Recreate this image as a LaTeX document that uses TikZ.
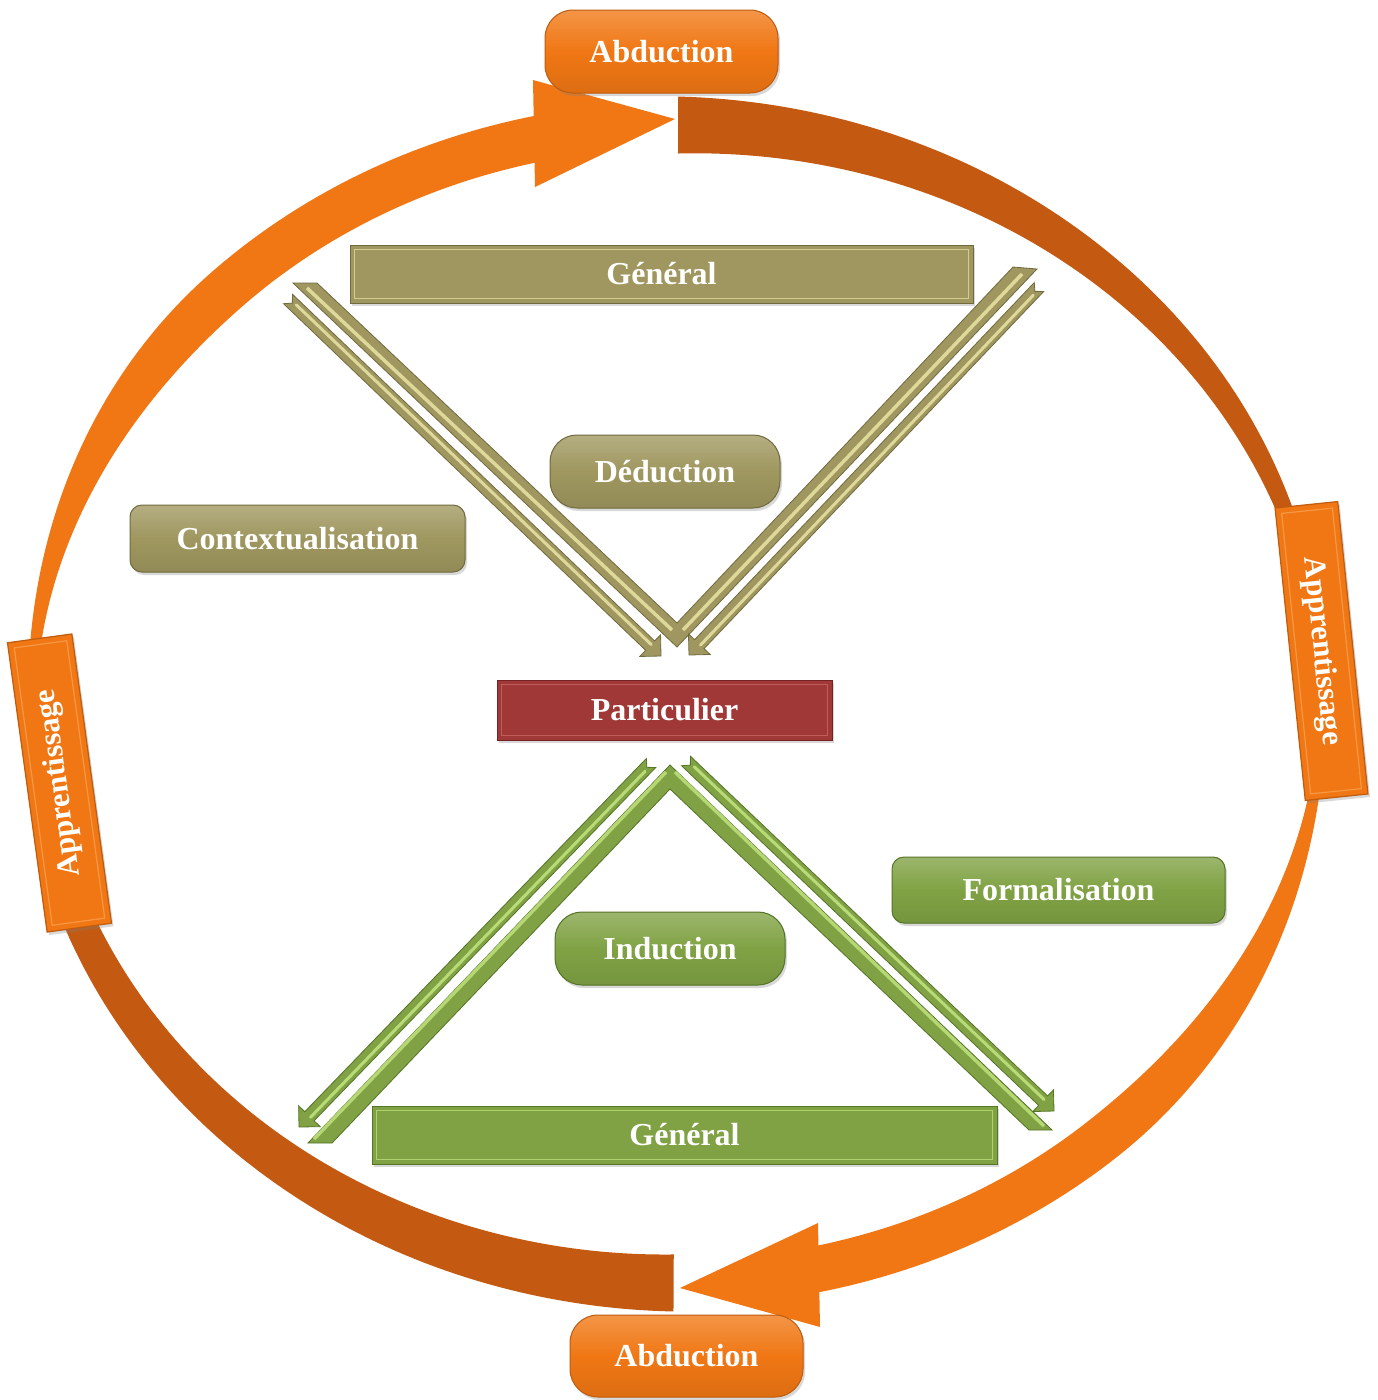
\documentclass[tikz,border=0pt]{standalone}
\usepackage{fontspec}
\setmainfont{Liberation Serif}
\usetikzlibrary{calc,shadows}

\definecolor{orL}{RGB}{240,119,20}
\definecolor{orLD}{RGB}{190,92,16}
\definecolor{orLL}{RGB}{248,160,80}
\definecolor{orD}{RGB}{196,90,18}
\definecolor{olv}{RGB}{159,151,95}
\definecolor{olvD}{RGB}{112,106,62}
\definecolor{olvL}{RGB}{234,228,165}
\definecolor{rd}{RGB}{160,56,56}
\definecolor{rdD}{RGB}{118,34,34}
\definecolor{rdL}{RGB}{205,110,110}
\definecolor{grn}{RGB}{128,162,68}
\definecolor{grnD}{RGB}{84,116,38}
\definecolor{grnL}{RGB}{196,230,128}

% slim arrow with notched tail: #1 tail, #2 tip, #3 colour family
\newcommand\slimarrow[3]{%
  \path ($(#2)!15pt!(#1)$) coordinate (#1b);
  \fill[#3, draw=#3D, line width=0.8pt]
    ($(#1)!6.5pt!90:(#2)$) -- ($(#1b)!6.5pt!90:(#2)$) -- ($(#1b)!15pt!90:(#2)$)
    -- (#2) -- ($(#1b)!15pt!-90:(#2)$) -- ($(#1b)!6.5pt!-90:(#2)$)
    -- ($(#1)!6.5pt!-90:(#2)$) -- ($(#1)!6pt!(#2)$) -- cycle;
  \draw[#3L, line width=3pt, opacity=.85, line cap=round]
    ($($(#1)!10pt!(#2)$)!1.5pt!90:(#2)$) -- ($(#1b)!1.5pt!90:(#2)$);
}

\begin{document}
\begin{tikzpicture}[x=1pt,y=-1pt,
  declare function={
    cl(\x)=min(1,max(0,\x));
    sm(\x)=3*\x*\x-2*\x*\x*\x;
    wA(\x)=max(12,57-45*(\x+89.9)/77.9);
    wB(\x)=8+38*sm(cl((\x-1.5)/47.4));
    wC(\x)=57-30*(\x-90.3)/79.7;
    wD(\x)=8+38*sm(cl((\x-178)/47.4));
  },
  lbl/.style={text=white, font=\bfseries\fontsize{32}{38}\selectfont},
  bar/.style={lbl, draw=#1D, fill=#1, line width=1pt, inner sep=0pt,
    drop shadow={opacity=.3, shadow xshift=2pt, shadow yshift=-3pt}},
  pill/.style={bar=#1, top color=#1!78!white, bottom color=#1!92!black, middle color=#1},
  tab/.style={lbl, font=\bfseries\fontsize{31}{36}\selectfont, fill=orL, draw=orLD,
    line width=1.2pt, inner sep=0pt,
    drop shadow={opacity=.3, shadow xshift=2pt, shadow yshift=-3pt}},
  tabin/.style={draw=orLL, line width=1.2pt, opacity=.8, inner sep=0pt},
  bevel/.style={draw=#1, line width=1.5pt, opacity=.7},
]
\fill[white] (0,0) rectangle (1378,1400);
\useasboundingbox (0,0) rectangle (1378,1400);

% ---- learning cycle: four tapering bands on one ellipse ----
\fill[orD]
  plot[domain=-89.9:-8, samples=80, variable=\x] ({677+(645+wA(\x)/2)*cos(\x)}, {704+(579+wA(\x)/2)*sin(\x)})
  -- plot[domain=-8:-89.9, samples=80, variable=\x] ({677+(645-wA(\x)/2)*cos(\x)}, {704+(579-wA(\x)/2)*sin(\x)})
  -- cycle;
\fill[orL]
  plot[domain=1.5:79, samples=80, variable=\x] ({677+(645+wB(\x)/2)*cos(\x)}, {704+(579+wB(\x)/2)*sin(\x)})
  -- plot[domain=79:1.5, samples=80, variable=\x] ({677+(645-wB(\x)/2)*cos(\x)}, {704+(579-wB(\x)/2)*sin(\x)})
  -- cycle;
\fill[orD]
  plot[domain=90.3:165, samples=80, variable=\x] ({677+(645+wC(\x)/2)*cos(\x)}, {704+(579+wC(\x)/2)*sin(\x)})
  -- plot[domain=165:90.3, samples=80, variable=\x] ({677+(645-wC(\x)/2)*cos(\x)}, {704+(579-wC(\x)/2)*sin(\x)})
  -- cycle;
\fill[orL]
  plot[domain=178:259, samples=80, variable=\x] ({677+(645+wD(\x)/2)*cos(\x)}, {704+(579+wD(\x)/2)*sin(\x)})
  -- plot[domain=259:178, samples=80, variable=\x] ({677+(645-wD(\x)/2)*cos(\x)}, {704+(579-wD(\x)/2)*sin(\x)})
  -- cycle;

% arrow heads of the cycle
\coordinate (topTip) at (675,119);
\coordinate (topB1) at (533,80);
\coordinate (topB2) at (535,187);
\fill[orL] (topB1) -- (topTip) -- (topB2) -- cycle;
\coordinate (botTip) at (680,1288);
\coordinate (botB1) at (818,1223);
\coordinate (botB2) at (820,1327);
\fill[orL] (botB1) -- (botTip) -- (botB2) -- cycle;

% ---- deduction: V with two slim arrows ----
\coordinate (vL1) at (293,283); \coordinate (vL2) at (317,283);
\coordinate (vIn) at (677,623);
\coordinate (vR1) at (1013,267); \coordinate (vR2) at (1037,269);
\coordinate (vOut) at (677,647);
\fill[olv, draw=olvD, line width=0.8pt] (vL1) -- (vL2) -- (vIn) -- (vR1) -- (vR2) -- (vOut) -- cycle;
\draw[olvL, line width=3.5pt, opacity=.85] (307,288) -- (672,630);
\draw[olvL, line width=3.5pt, opacity=.85] (1022,274) -- (683,630);

\coordinate (dLt) at (288,299); \coordinate (dLp) at (661,656);
\coordinate (dRt) at (1039,287); \coordinate (dRp) at (689,655);
\slimarrow{dLt}{dLp}{olv}
\slimarrow{dRt}{dRp}{olv}

% ---- induction: inverted V with two slim arrows ----
\coordinate (iOut) at (670,765); \coordinate (iIn) at (670,789);
\coordinate (iL1) at (308,1143); \coordinate (iL2) at (332,1143);
\coordinate (iR1) at (1029,1130); \coordinate (iR2) at (1052,1130);
\fill[grn, draw=grnD, line width=0.8pt] (iOut) -- (iR2) -- (iR1) -- (iIn) -- (iL2) -- (iL1) -- cycle;
\draw[grnL, line width=3.5pt, opacity=.8] (666,772) -- (314,1139);
\draw[grnL, line width=3.5pt, opacity=.8] (675,772) -- (1044,1126);

\coordinate (nLt) at (651,763); \coordinate (nLp) at (299,1127);
\coordinate (nRt) at (686,761); \coordinate (nRp) at (1054,1111);
\slimarrow{nLt}{nLp}{grn}
\slimarrow{nRt}{nRp}{grn}

% ---- boxes ----
\node[bar=olv, minimum width=623pt, minimum height=58pt] (genT) at (661.5,274) {Général};
\draw[bevel=olvL] ([xshift=5pt,yshift=-5pt]genT.north west) rectangle ([xshift=-5pt,yshift=5pt]genT.south east);

\node[pill=olv, rounded corners=27pt, minimum width=230pt, minimum height=73pt] (ded) at (665,471.5) {Déduction};
\node[pill=olv, rounded corners=12pt, minimum width=335pt, minimum height=67pt] (ctx) at (297.5,538.5) {Contextualisation};

\node[bar=rd, minimum width=335pt, minimum height=60pt] (part) at (664.5,710) {Particulier};
\draw[bevel=rdL] ([xshift=5pt,yshift=-5pt]part.north west) rectangle ([xshift=-5pt,yshift=5pt]part.south east);

\node[pill=grn, rounded corners=12pt, minimum width=333pt, minimum height=66pt] (form) at (1058.5,890) {Formalisation};
\node[pill=grn, rounded corners=27pt, minimum width=230pt, minimum height=73pt] (ind) at (670,948.5) {Induction};

\node[bar=grn, minimum width=625pt, minimum height=58pt] (genB) at (684.5,1135) {Général};
\draw[bevel=grnL] ([xshift=5pt,yshift=-5pt]genB.north west) rectangle ([xshift=-5pt,yshift=5pt]genB.south east);

% ---- cycle labels ----
\node[pill=orL, rounded corners=28pt, minimum width=233pt, minimum height=83pt] (abdT) at (661.5,51.5) {Abduction};
\node[pill=orL, rounded corners=28pt, minimum width=233pt, minimum height=82pt] (abdB) at (686.5,1356) {Abduction};

\node[tab, rotate=97.8, minimum width=292pt, minimum height=65pt] (appL) at (59.5,783) {Apprentissage};
\node[tabin, rotate=97.8, minimum width=280pt, minimum height=53pt] (appLin) at (appL.center) {};
\node[tab, rotate=-84.1, minimum width=294pt, minimum height=63pt] (appR) at (1321.5,651) {Apprentissage};
\node[tabin, rotate=-84.1, minimum width=282pt, minimum height=51pt] (appRin) at (appR.center) {};

\end{tikzpicture}
\end{document}
